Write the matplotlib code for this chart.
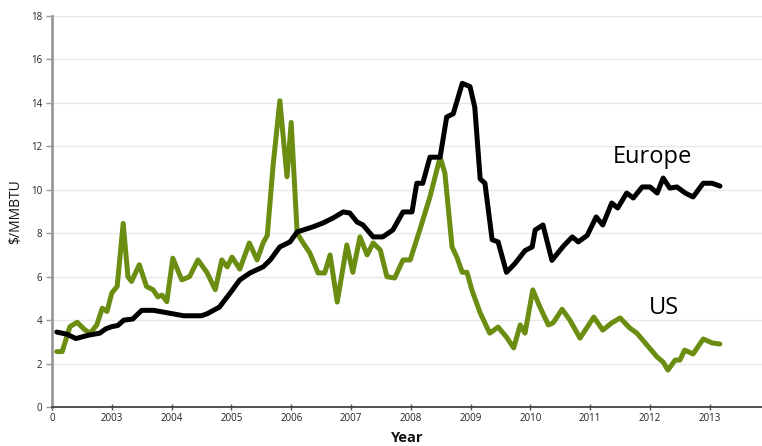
import matplotlib
matplotlib.use("Agg")
import matplotlib.pyplot as plt

# ---- data ----
europe_years = [2002.08, 2002.25, 2002.4, 2002.6, 2002.8, 2002.9, 2003.0, 2003.1, 2003.2, 2003.35,
                2003.5, 2003.7, 2003.9, 2004.0, 2004.2, 2004.5, 2004.6, 2004.8, 2004.98, 2005.14,
                2005.31, 2005.53, 2005.65, 2005.81, 2005.98, 2006.1, 2006.36, 2006.53, 2006.7, 2006.87,
                2006.98, 2007.1, 2007.2, 2007.37, 2007.53, 2007.7, 2007.87, 2008.02, 2008.1, 2008.2,
                2008.32, 2008.49, 2008.6, 2008.71, 2008.86, 2008.99, 2009.07, 2009.16, 2009.24, 2009.36,
                2009.46, 2009.6, 2009.74, 2009.91, 2010.03, 2010.08, 2010.21, 2010.36, 2010.55, 2010.7,
                2010.8, 2010.95, 2011.1, 2011.21, 2011.36, 2011.46, 2011.61, 2011.72, 2011.87, 2012.0,
                2012.12, 2012.22, 2012.33, 2012.45, 2012.59, 2012.72, 2012.89, 2013.04, 2013.17]
europe_values = [3.45, 3.35, 3.15, 3.3, 3.4, 3.6, 3.7, 3.75, 4.0, 4.05,
                 4.45, 4.45, 4.35, 4.3, 4.2, 4.2, 4.3, 4.6, 5.25, 5.85,
                 6.17, 6.45, 6.77, 7.37, 7.6, 8.06, 8.29, 8.47, 8.7, 8.98,
                 8.93, 8.52, 8.38, 7.83, 7.83, 8.15, 8.98, 8.98, 10.3, 10.3,
                 11.5, 11.5, 13.35, 13.5, 14.9, 14.75, 13.8, 10.5, 10.3, 7.7,
                 7.6, 6.2, 6.6, 7.2, 7.37, 8.15, 8.38, 6.75, 7.4, 7.83,
                 7.6, 7.9, 8.75, 8.38, 9.39, 9.16, 9.85, 9.62, 10.13, 10.13,
                 9.85, 10.54, 10.08, 10.13, 9.85, 9.67, 10.3, 10.3, 10.17]

us_years = [2002.08, 2002.17, 2002.3, 2002.42, 2002.55, 2002.64, 2002.75, 2002.84, 2002.92, 2003.0,
            2003.09, 2003.19, 2003.27, 2003.33, 2003.46, 2003.58, 2003.69, 2003.77, 2003.84, 2003.92,
            2004.02, 2004.17, 2004.3, 2004.44, 2004.59, 2004.73, 2004.84, 2004.93, 2005.01, 2005.14,
            2005.3, 2005.43, 2005.53, 2005.6, 2005.7, 2005.81, 2005.93, 2006.0, 2006.1, 2006.2,
            2006.31, 2006.45, 2006.56, 2006.65, 2006.77, 2006.93, 2007.03, 2007.15, 2007.27, 2007.37,
            2007.49, 2007.6, 2007.73, 2007.87, 2007.99, 2008.15, 2008.32, 2008.49, 2008.57, 2008.69,
            2008.77, 2008.86, 2008.94, 2009.02, 2009.16, 2009.32, 2009.46, 2009.6, 2009.72, 2009.83,
            2009.91, 2010.04, 2010.16, 2010.3, 2010.38, 2010.53, 2010.66, 2010.83, 2011.06, 2011.21,
            2011.36, 2011.5, 2011.66, 2011.78, 2011.95, 2012.12, 2012.22, 2012.3, 2012.42, 2012.5,
            2012.58, 2012.72, 2012.89, 2013.04, 2013.17]
us_values = [2.55, 2.55, 3.7, 3.9, 3.55, 3.4, 3.78, 4.55, 4.4, 5.25,
             5.55, 8.45, 6.0, 5.78, 6.55, 5.55, 5.4, 5.07, 5.15, 4.85,
             6.85, 5.85, 6.0, 6.77, 6.2, 5.4, 6.77, 6.45, 6.9, 6.35,
             7.55, 6.77, 7.55, 7.9, 11.2, 14.1, 10.6, 13.1, 8.0, 7.55,
             7.1, 6.17, 6.17, 7.0, 4.83, 7.46, 6.2, 7.83, 7.0, 7.55,
             7.23, 6.0, 5.94, 6.77, 6.77, 8.15, 9.67, 11.5, 10.77, 7.37,
             6.9, 6.2, 6.2, 5.4, 4.33, 3.4, 3.68, 3.22, 2.72, 3.78,
             3.4, 5.39, 4.6, 3.78, 3.87, 4.5, 4.0, 3.17, 4.14, 3.54,
             3.87, 4.1, 3.64, 3.4, 2.85, 2.3, 2.07, 1.7, 2.16, 2.16,
             2.62, 2.44, 3.13, 2.95, 2.9]

x_ticks = [2002, 2003, 2004, 2005, 2006, 2007, 2008, 2009, 2010, 2011, 2012, 2013]
x_tick_labels = ["0", "2003", "2004", "2005", "2006", "2007", "2008", "2009", "2010", "2011", "2012", "2013"]
y_ticks = [0, 2, 4, 6, 8, 10, 12, 14, 16, 18]

plt.rcParams['font.family'] = ['Open Sans', 'DejaVu Sans']

fig = plt.figure(figsize=(7.62, 4.46), dpi=100)
ax = fig.add_axes([52 / 762, 1 - 407 / 446, 1 - 52 / 762, (407 - 16) / 446])

green = '#6a8d12'
ax.plot(us_years, us_values, color=green, lw=3.6, solid_joinstyle='round', solid_capstyle='round', zorder=3)
ax.plot(europe_years, europe_values, color='black', lw=3.6, solid_joinstyle='round', solid_capstyle='round', zorder=4)

ax.set_xlim(2002, 2002 + (762 - 52) / 59.8)
ax.set_ylim(0, 18)
ax.set_xticks(x_ticks)
ax.set_xticklabels(x_tick_labels)
ax.set_yticks(y_ticks)

for y in y_ticks[1:]:
    ax.axhline(y, color='#e9e9e9', lw=1, zorder=1)

for s in ['top', 'right']:
    ax.spines[s].set_visible(False)
ax.spines['left'].set_color('#999999')
ax.spines['left'].set_linewidth(2)
ax.spines['bottom'].set_color('#444444')
ax.spines['bottom'].set_linewidth(1.3)

ax.tick_params(axis='x', direction='inout', length=5, width=1, color='#555555', labelsize=7, labelcolor='#222222', pad=2)
ax.tick_params(axis='y', direction='out', length=4, width=1, color='#999999', labelsize=7, labelcolor='#222222', pad=3)

ax.set_ylabel('$/MMBTU', fontsize=10, color='#111111', labelpad=6)
ax.set_xlabel('Year', fontsize=10.5, fontweight='bold', color='#111111', labelpad=5)

ax.text(2011.38, 11.5, 'Europe', fontsize=17, color='black', va='center', ha='left')
ax.text(2011.98, 4.55, 'US', fontsize=17, color='black', va='center', ha='left')

fig.savefig('out.png', dpi=100)
